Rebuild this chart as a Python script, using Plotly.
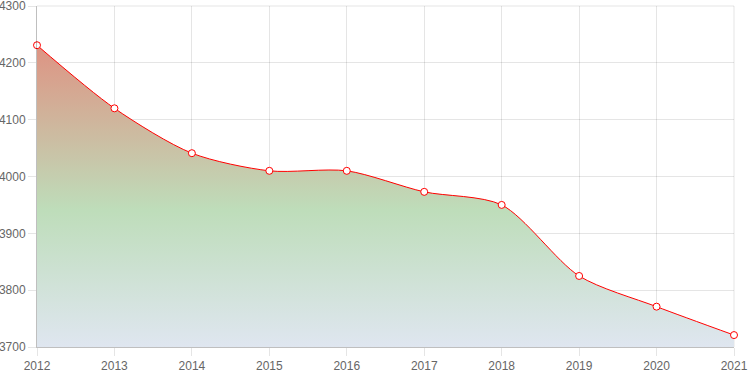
import plotly.graph_objects as go

years = [2012, 2013, 2014, 2015, 2016, 2017, 2018, 2019, 2020, 2021]
values = [4231, 4120, 4041, 4010, 4010, 3973, 3950, 3825, 3771, 3721]
y_ticks = [3700, 3800, 3900, 4000, 4100, 4200, 4300]

fig = go.Figure()
fig.add_trace(go.Scatter(
    x=years, y=values,
    mode="lines+markers",
    line=dict(color="red", width=1, shape="spline", smoothing=0.8),
    marker=dict(size=7, color="white", line=dict(color="red", width=1)),
    fill="tozeroy",
    fillgradient=dict(
        type="vertical",
        start=3700, stop=4235,
        colorscale=[[0, "rgb(223,230,240)"], [0.45, "rgb(190,221,186)"], [1, "rgb(222,146,130)"]],
    ),
    hoverinfo="x+y",
    cliponaxis=False,
))

axis_common = dict(
    showgrid=True, gridcolor="rgba(0,0,0,0.1)", gridwidth=1,
    zeroline=False, automargin=False, ticklabeloverflow="allow",
    ticks="outside", ticklen=8, tickcolor="rgba(0,0,0,0.1)",
    tickfont=dict(family="Liberation Sans, Arial", size=12, color="#666"),
    showline=True, linecolor="rgba(0,0,0,0.25)", linewidth=1,
)

fig.update_layout(
    width=750, height=375,
    margin=dict(l=37, r=16, t=6, b=28),
    paper_bgcolor="white", plot_bgcolor="white",
    showlegend=False,
    xaxis=dict(range=[2012, 2021], tickvals=years, **axis_common),
    yaxis=dict(range=[3700, 4300], tickvals=y_ticks, **axis_common),
)
# light frame on the top and right edges of the plot area (grid lines at range ends)
fig.add_shape(type="line", xref="paper", yref="paper", x0=0, x1=1, y0=1, y1=1,
              line=dict(color="rgba(0,0,0,0.1)", width=1), layer="below")
fig.add_shape(type="line", xref="paper", yref="paper", x0=1, x1=1, y0=0, y1=1,
              line=dict(color="rgba(0,0,0,0.1)", width=1), layer="below")

fig.write_html("out.html", config={"displayModeBar": False},
               post_script="document.body.style.margin='0';")
